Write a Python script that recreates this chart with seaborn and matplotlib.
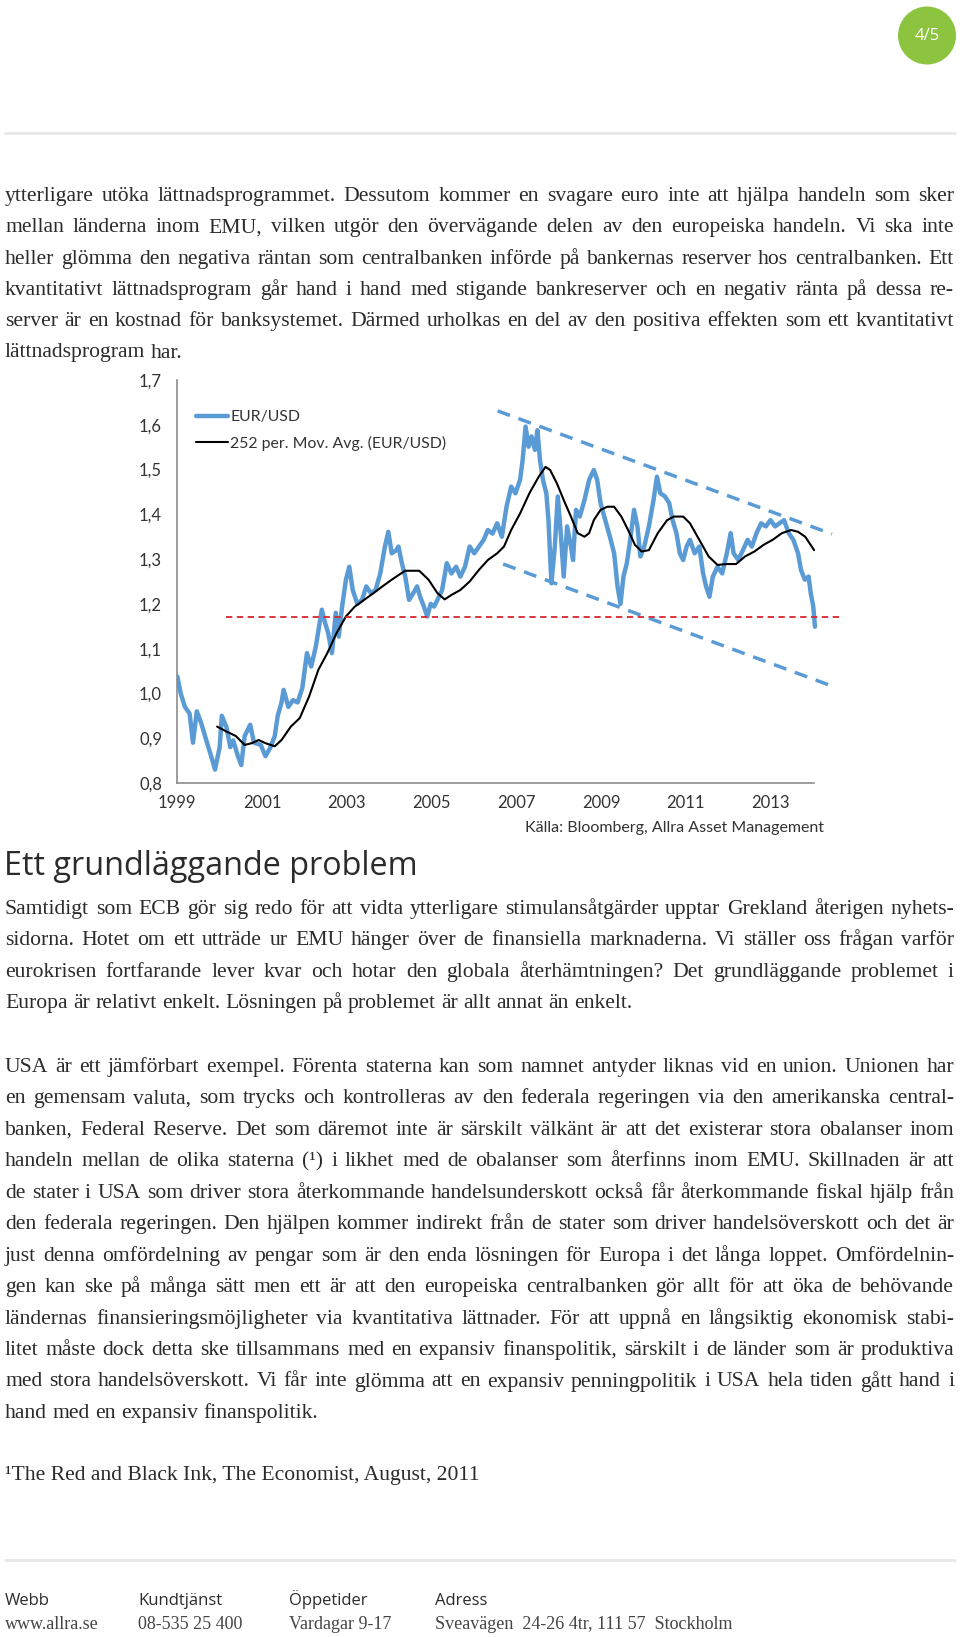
import matplotlib
matplotlib.use("Agg")
import matplotlib.pyplot as plt
from matplotlib.patches import Circle
from matplotlib.ticker import FuncFormatter
import seaborn as sns

W, H = 960, 1637

# EUR/USD (x = position on the year axis)
eur_year = [
    1999.00, 1999.08, 1999.18, 1999.29, 1999.37, 1999.46, 1999.56, 1999.67, 1999.83, 1999.89,
    2000.00, 2000.05, 2000.16, 2000.25, 2000.32, 2000.43, 2000.51, 2000.59, 2000.72, 2000.81, 2000.97,
    2001.08, 2001.19, 2001.30, 2001.37, 2001.46, 2001.51, 2001.62, 2001.73, 2001.84, 2001.95,
    2002.06, 2002.16, 2002.27, 2002.41, 2002.49, 2002.56, 2002.65, 2002.74, 2002.81, 2002.89, 2002.98,
    2003.06, 2003.14, 2003.25, 2003.36, 2003.46, 2003.57, 2003.68, 2003.79, 2003.90, 2003.98,
    2004.06, 2004.17, 2004.22, 2004.30, 2004.38, 2004.47, 2004.57, 2004.66, 2004.73, 2004.82, 2004.90, 2004.98,
    2005.06, 2005.14, 2005.25, 2005.36, 2005.47, 2005.58, 2005.68, 2005.79, 2005.90,
    2006.01, 2006.12, 2006.23, 2006.33, 2006.44, 2006.55, 2006.66, 2006.77, 2006.88, 2006.98,
    2007.09, 2007.15, 2007.22, 2007.29, 2007.36, 2007.44, 2007.50, 2007.56, 2007.63, 2007.71, 2007.76, 2007.83, 2007.91, 2007.98,
    2008.05, 2008.12, 2008.20, 2008.29, 2008.34, 2008.41, 2008.50, 2008.61, 2008.72, 2008.83, 2008.91, 2008.99,
    2009.10, 2009.21, 2009.31, 2009.39, 2009.46, 2009.53, 2009.61, 2009.69, 2009.78, 2009.86, 2009.93,
    2010.02, 2010.13, 2010.24, 2010.32, 2010.40, 2010.51, 2010.61, 2010.69, 2010.78, 2010.86, 2010.94,
    2011.02, 2011.10, 2011.21, 2011.32, 2011.41, 2011.48, 2011.56, 2011.64, 2011.75, 2011.86, 2011.97,
    2012.06, 2012.13, 2012.24, 2012.35, 2012.46, 2012.56, 2012.67, 2012.78, 2012.89,
    2013.00, 2013.11, 2013.21, 2013.32, 2013.43, 2013.54, 2013.65, 2013.72, 2013.81, 2013.90, 2013.95, 2014.01, 2014.05,
]
eur_rate = [
    1.038, 1.000, 0.970, 0.955, 0.890, 0.960, 0.935, 0.900, 0.850, 0.830,
    0.880, 0.950, 0.925, 0.880, 0.895, 0.860, 0.840, 0.905, 0.930, 0.890, 0.885,
    0.860, 0.878, 0.905, 0.950, 0.980, 1.008, 0.970, 0.985, 0.980, 1.012,
    1.090, 1.060, 1.105, 1.187, 1.157, 1.135, 1.090, 1.180, 1.127, 1.194, 1.254,
    1.283, 1.231, 1.200, 1.209, 1.239, 1.224, 1.231, 1.268, 1.328, 1.361,
    1.313, 1.320, 1.328, 1.291, 1.261, 1.209, 1.224, 1.239, 1.216, 1.194, 1.172, 1.200,
    1.194, 1.209, 1.231, 1.291, 1.268, 1.283, 1.261, 1.283, 1.328,
    1.313, 1.328, 1.343, 1.365, 1.357, 1.380, 1.350, 1.417, 1.462, 1.447,
    1.477, 1.521, 1.596, 1.551, 1.574, 1.544, 1.588, 1.521, 1.477, 1.447, 1.387, 1.246, 1.328, 1.440,
    1.358, 1.261, 1.373, 1.328, 1.298, 1.410, 1.395, 1.432, 1.477, 1.499, 1.477, 1.425,
    1.387, 1.350, 1.313, 1.239, 1.200, 1.261, 1.291, 1.343, 1.410, 1.373, 1.306,
    1.328, 1.373, 1.432, 1.484, 1.447, 1.440, 1.425, 1.387, 1.358, 1.313, 1.298,
    1.328, 1.343, 1.313, 1.328, 1.268, 1.239, 1.216, 1.261, 1.283, 1.268, 1.313,
    1.358, 1.313, 1.298, 1.320, 1.343, 1.328, 1.358, 1.380, 1.373,
    1.387, 1.373, 1.380, 1.387, 1.358, 1.343, 1.313, 1.276, 1.254, 1.261, 1.224, 1.194, 1.149,
]

# 252 per. moving average
ma_year = [
    1999.94, 2000.16, 2000.38, 2000.59, 2000.76, 2000.92, 2001.08, 2001.30, 2001.46, 2001.68, 2001.89,
    2002.11, 2002.33, 2002.54, 2002.76, 2002.98, 2003.19, 2003.41, 2003.63, 2003.84, 2004.06, 2004.28, 2004.38, 2004.71, 2004.93,
    2005.14, 2005.31, 2005.47, 2005.68, 2005.90, 2006.12, 2006.33, 2006.55, 2006.71, 2006.88, 2007.09, 2007.31, 2007.53, 2007.69, 2007.80, 2007.96,
    2008.12, 2008.29, 2008.45, 2008.61, 2008.72, 2008.83, 2008.99, 2009.15, 2009.31, 2009.48, 2009.64, 2009.80, 2009.96, 2010.13, 2010.34, 2010.56, 2010.72, 2010.94,
    2011.10, 2011.32, 2011.54, 2011.75, 2011.97, 2012.19, 2012.40, 2012.62, 2012.84, 2013.05, 2013.27, 2013.49, 2013.65, 2013.82, 2014.03,
]
ma_rate = [
    0.926, 0.915, 0.905, 0.885, 0.889, 0.896, 0.889, 0.882, 0.896, 0.926, 0.945,
    0.993, 1.053, 1.090, 1.135, 1.172, 1.194, 1.209, 1.224, 1.239, 1.254, 1.268, 1.274, 1.274, 1.254,
    1.224, 1.210, 1.220, 1.231, 1.250, 1.276, 1.298, 1.313, 1.328, 1.365, 1.402, 1.447, 1.484, 1.506, 1.499, 1.469,
    1.432, 1.395, 1.358, 1.350, 1.358, 1.387, 1.410, 1.417, 1.417, 1.395, 1.365, 1.332, 1.317, 1.320, 1.358, 1.387, 1.395, 1.395,
    1.380, 1.343, 1.306, 1.287, 1.289, 1.289, 1.306, 1.317, 1.332, 1.343, 1.358, 1.365, 1.361, 1.350, 1.320,
]

# trend channel and support level
upper_year, upper_rate = [2006.56, 2014.45], [1.631, 1.356]
lower_year, lower_rate = [2006.69, 2014.55], [1.289, 1.013]
support_year, support_rate = [2000.16, 2014.68], [1.171, 1.171]

x_ticks = [1999, 2001, 2003, 2005, 2007, 2009, 2011, 2013]
y_ticks = [0.8, 0.9, 1.0, 1.1, 1.2, 1.3, 1.4, 1.5, 1.6, 1.7]

para_1 = [
    "ytterligare utöka lättnadsprogrammet. Dessutom kommer en svagare euro inte att hjälpa handeln som sker",
    "mellan länderna inom EMU, vilken utgör den övervägande delen av den europeiska handeln. Vi ska inte",
    "heller glömma den negativa räntan som centralbanken införde på bankernas reserver hos centralbanken. Ett",
    "kvantitativt lättnadsprogram går hand i hand med stigande bankreserver och en negativ ränta på dessa re-",
    "server är en kostnad för banksystemet. Därmed urholkas en del av den positiva effekten som ett kvantitativt",
    "lättnadsprogram har.",
]
para_2 = [
    "Samtidigt som ECB gör sig redo för att vidta ytterligare stimulansåtgärder upptar Grekland återigen nyhets-",
    "sidorna. Hotet om ett utträde ur EMU hänger över de finansiella marknaderna. Vi ställer oss frågan varför",
    "eurokrisen fortfarande lever kvar och hotar den globala återhämtningen? Det grundläggande problemet i",
    "Europa är relativt enkelt. Lösningen på problemet är allt annat än enkelt.",
]
para_3 = [
    "USA är ett jämförbart exempel. Förenta staterna kan som namnet antyder liknas vid en union. Unionen har",
    "en gemensam valuta, som trycks och kontrolleras av den federala regeringen via den amerikanska central-",
    "banken, Federal Reserve. Det som däremot inte är särskilt välkänt är att det existerar stora obalanser inom",
    "handeln mellan de olika staterna (¹) i likhet med de obalanser som återfinns inom EMU. Skillnaden är att",
    "de stater i USA som driver stora återkommande handelsunderskott också får återkommande fiskal hjälp från",
    "den federala regeringen. Den hjälpen kommer indirekt från de stater som driver handelsöverskott och det är",
    "just denna omfördelning av pengar som är den enda lösningen för Europa i det långa loppet. Omfördelnin-",
    "gen kan ske på många sätt men ett är att den europeiska centralbanken gör allt för att öka de behövande",
    "ländernas finansieringsmöjligheter via kvantitativa lättnader. För att uppnå en långsiktig ekonomisk stabi-",
    "litet måste dock detta ske tillsammans med en expansiv finanspolitik, särskilt i de länder som är produktiva",
    "med stora handelsöverskott. Vi får inte glömma att en expansiv penningpolitik i USA hela tiden gått hand i",
    "hand med en expansiv finanspolitik.",
]
footer_heads = ["Webb", "Kundtjänst", "Öppetider", "Adress"]
footer_vals = ["www.allra.se", "08-535 25 400", "Vardagar 9-17", "Sveavägen  24-26 4tr, 111 57  Stockholm"]

sns.set_theme(style="white")
plt.rcParams["font.family"] = ["Lato", "DejaVu Sans"]

BLUE = "#5b9bd5"
INK = "#2b2b2b"
SERIF = ["Liberation Serif", "DejaVu Serif"]
SANS = ["Open Sans", "DejaVu Sans"]

fig = plt.figure(figsize=(W / 100, H / 100), dpi=100)
fig.patch.set_facecolor("white")
renderer = fig.canvas.get_renderer()


def fx(x):
    return x / W


def fy(y):
    return 1 - y / H


def text_width(s, size):
    t = fig.text(0, 0, s, fontsize=size, family=SERIF)
    w = t.get_window_extent(renderer).width
    t.remove()
    return w


# pick a body size so the widest justified line only just fits the column
full_lines = para_1[:-1] + para_2[:-1] + para_3[:-1]
widest = max(text_width(s, 15) for s in full_lines)
BODY = 15 * 940 / widest


def put_line(line, y, justify, x0=5, x1=954, size=None):
    size = size or BODY
    words = line.split(" ")
    objs = [fig.text(fx(x0), fy(y), w, fontsize=size, family=SERIF, color=INK,
                     va="baseline", ha="left") for w in words]
    widths = [o.get_window_extent(renderer).width for o in objs]
    gap = size * 100 / 72 * 0.25
    if justify and len(words) > 1:
        gap = (x1 - x0 - sum(widths)) / (len(words) - 1)
    x = x0
    for o, w in zip(objs, widths):
        o.set_x(fx(x))
        x += w + gap


def put_para(lines, y0, step):
    for i, line in enumerate(lines):
        put_line(line, y0 + i * step, justify=(i < len(lines) - 1))


# page furniture
fig.add_artist(Circle((927 / 100, (H - 35.5) / 100), 0.29, transform=fig.dpi_scale_trans,
                      color="#8cc43f", lw=0))
fig.text(fx(927), fy(36), "4/5", color="white", fontsize=12, family=SANS, ha="center", va="center")
fig.add_artist(plt.Line2D([fx(5), fx(955)], [fy(133), fy(133)], color="#e8e8e8", lw=2))
fig.add_artist(plt.Line2D([fx(5), fx(955)], [fy(1560), fy(1560)], color="#e8e8e8", lw=2))

put_para(para_1, 201, 31.3)
fig.text(fx(4), fy(875), "Ett grundläggande problem", fontsize=23.3, family=SANS, color=INK,
         va="baseline", ha="left")
put_para(para_2, 914, 31.3)
put_para(para_3, 1072, 31.45)
fig.text(fx(5), fy(1480), "¹The Red and Black Ink, The Economist, August, 2011", fontsize=BODY,
         family=SERIF, color=INK, va="baseline")

for xp, head, val in zip([5, 138, 289, 435], footer_heads, footer_vals):
    fig.text(fx(xp), fy(1605), head, fontsize=12, family=SANS, color=INK, va="baseline")
    fig.text(fx(xp), fy(1629), val, fontsize=13, family=SERIF, color="#444444", va="baseline")

# chart: 1999 sits at x=177, one year is 42.4 px, 0.8..1.7 spans y 783..380
x_left, px_year = 177.3, 42.37
ax = fig.add_axes([fx(x_left), fy(783), 16 * px_year / W, (783 - 380) / H])
sns.lineplot(x=eur_year, y=eur_rate, ax=ax, color=BLUE, lw=3.2, estimator=None, label="EUR/USD")
sns.lineplot(x=ma_year, y=ma_rate, ax=ax, color="black", lw=1.5, estimator=None,
             label="252 per. Mov. Avg. (EUR/USD)")
ax.plot(upper_year, upper_rate, color=BLUE, lw=2.5, dashes=(3.8, 2.6), clip_on=False)
ax.plot(lower_year, lower_rate, color=BLUE, lw=2.5, dashes=(3.8, 2.6), clip_on=False)
ax.plot(support_year, support_rate, color="#d7262e", lw=1.3, dashes=(3.5, 2.5), clip_on=False)

ax.set_xlim(1999, 2015)
ax.set_ylim(0.8, 1.7)
ax.set_xticks(x_ticks)
ax.set_yticks(y_ticks)
ax.yaxis.set_major_formatter(FuncFormatter(lambda v, p: f"{v:.1f}".replace(".", ",")))
ax.tick_params(length=0, labelsize=12, colors="#333333")
ax.tick_params(axis="y", pad=11)
ax.tick_params(axis="x", pad=9)
ax.set_xlabel("")
ax.set_ylabel("")
for side in ["top", "right"]:
    ax.spines[side].set_visible(False)
for side in ["left", "bottom"]:
    ax.spines[side].set_color("#8c8c8c")
    ax.spines[side].set_linewidth(1.2)
ax.spines["bottom"].set_bounds(1999, 2014.03)
ax.patch.set_alpha(0)

ax.legend(loc="upper left", bbox_to_anchor=((196 - x_left) / (16 * px_year), (783 - 410) / 403),
          frameon=False, fontsize=11.4, handlelength=2.0, handletextpad=0.15, labelspacing=0.75,
          borderpad=0, borderaxespad=0, labelcolor="#333333")

fig.text(fx(525), fy(832), "Källa: Bloomberg, Allra Asset Management", fontsize=11.5,
         color="#333333", va="baseline")

fig.savefig("out.png", dpi=100)
